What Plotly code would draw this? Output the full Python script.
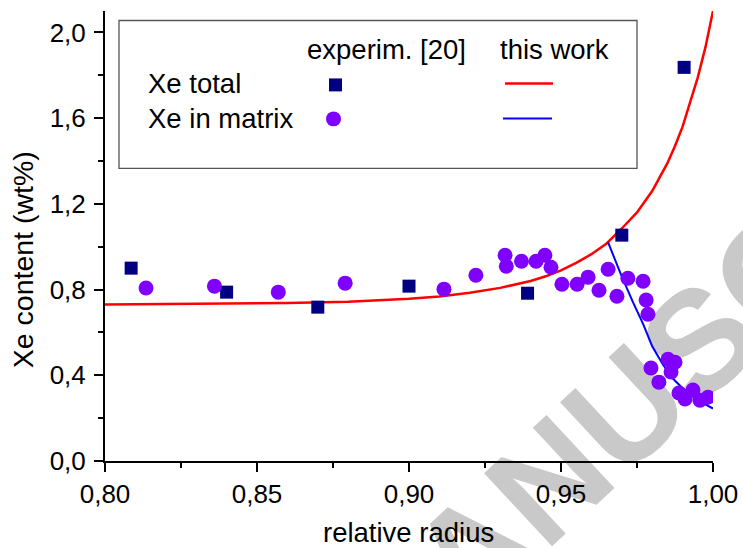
import plotly.graph_objects as go

# ---------------- data ----------------
total_r = [0.8086, 0.840, 0.870, 0.900, 0.939, 0.970, 0.9905]
total_xe = [0.900, 0.788, 0.718, 0.816, 0.783, 1.054, 1.837]

matrix_r = [0.8135, 0.836, 0.857, 0.879, 0.9115, 0.922, 0.9316, 0.932, 0.937,
            0.9418, 0.9447, 0.9467, 0.9503, 0.9553, 0.9589, 0.9625, 0.9655,
            0.9684, 0.972, 0.977, 0.978, 0.9786, 0.9796, 0.9822, 0.9852,
            0.9875, 0.9862, 0.9888, 0.9908, 0.9934, 0.9957, 0.9984]
matrix_xe = [0.807, 0.816, 0.788, 0.830, 0.802, 0.867, 0.960, 0.909, 0.932,
             0.932, 0.960, 0.904, 0.825, 0.825, 0.858, 0.797, 0.895,
             0.769, 0.853, 0.839, 0.751, 0.685, 0.434, 0.368, 0.475,
             0.461, 0.415, 0.317, 0.289, 0.331, 0.284, 0.298]

model_total_r = [0.800, 0.820, 0.840, 0.860, 0.880, 0.900, 0.910, 0.920, 0.930,
                 0.940, 0.945, 0.950, 0.955, 0.960, 0.965, 0.970, 0.975, 0.980,
                 0.985, 0.9875, 0.990, 0.9925, 0.995, 0.9975, 1.000]
model_total_xe = [0.730, 0.732, 0.734, 0.737, 0.743, 0.757, 0.768, 0.785, 0.808,
                  0.840, 0.862, 0.890, 0.925, 0.965, 1.015, 1.085, 1.160, 1.260,
                  1.390, 1.470, 1.560, 1.670, 1.790, 1.930, 2.100]

model_matrix_r = [0.9655, 0.970, 0.9737, 0.977, 0.980, 0.9835, 0.9868, 0.990,
                  0.9934, 0.9967, 1.000]
model_matrix_xe = [1.020, 0.860, 0.740, 0.640, 0.535, 0.450, 0.385, 0.340,
                   0.300, 0.270, 0.245]

x_ticks = [0.80, 0.85, 0.90, 0.95, 1.00]
y_ticks = [0.0, 0.4, 0.8, 1.2, 1.6, 2.0]

FONT = "Liberation Sans, Arial, Helvetica, sans-serif"
NAVY = "#000080"
VIOLET = "#8000FF"

# plot-area geometry (pixels)
W, H = 743, 548
L, R, T, B = 105, 30, 10.5, 87
PW, PH = W - L - R, H - T - B


def px(x):
    return (x - L) / PW


def py(y):
    return (H - B - y) / PH


fig = go.Figure()
fig.add_trace(go.Scatter(x=model_total_r, y=model_total_xe, mode="lines",
                         line=dict(color="#FF0000", width=2.5), showlegend=False))
fig.add_trace(go.Scatter(x=model_matrix_r, y=model_matrix_xe, mode="lines",
                         line=dict(color="#0000FF", width=2), showlegend=False))
fig.add_trace(go.Scatter(x=total_r, y=total_xe, mode="markers",
                         marker=dict(symbol="square", size=13, color=NAVY,
                                     line=dict(width=0)), showlegend=False))
fig.add_trace(go.Scatter(x=matrix_r, y=matrix_xe, mode="markers",
                         marker=dict(symbol="circle", size=15, color=VIOLET,
                                     line=dict(width=0)), showlegend=False))

shapes = []
# watermark (below traces)
shapes.append(dict(type="rect", xref="paper", yref="paper", layer="below",
                   x0=px(685), x1=px(695), y0=py(335), y1=py(325),
                   line=dict(width=0), fillcolor="rgba(0,0,0,0)",
                   label=dict(text="<b>MANUSCRIPT</b>", textangle=-43,
                              textposition="middle center",
                              font=dict(size=145, color="#c9c9c9", family=FONT))))
# legend box
shapes.append(dict(type="rect", xref="paper", yref="paper",
                   x0=px(119), x1=px(637), y0=py(168), y1=py(20),
                   line=dict(color="#555555", width=1.3), fillcolor="white"))
# legend symbols
shapes.append(dict(type="rect", xref="paper", yref="paper",
                   x0=px(329), x1=px(342), y0=py(91), y1=py(78),
                   line=dict(width=0), fillcolor=NAVY))
shapes.append(dict(type="circle", xref="paper", yref="paper",
                   x0=px(326), x1=px(341), y0=py(126), y1=py(111),
                   line=dict(width=0), fillcolor=VIOLET))
shapes.append(dict(type="line", xref="paper", yref="paper",
                   x0=px(505), x1=px(553), y0=py(83), y1=py(83),
                   line=dict(color="#FF0000", width=2.5)))
shapes.append(dict(type="line", xref="paper", yref="paper",
                   x0=px(503), x1=px(552), y0=py(118), y1=py(118),
                   line=dict(color="#0000FF", width=2)))

annotations = []


def add_text(text, x, y, size=27.5, xanchor="left", angle=0):
    annotations.append(dict(text=text, xref="paper", yref="paper",
                            x=px(x), y=py(y), xanchor=xanchor, yanchor="middle",
                            showarrow=False, textangle=angle,
                            font=dict(size=size, color="black", family=FONT)))


add_text("experim. [20]", 305, 49)
add_text("this work", 498, 49)
add_text("Xe total", 146, 83)
add_text("Xe in matrix", 146, 118)
add_text("relative radius", 408, 533, xanchor="center")
add_text("Xe content (wt%)", 23, 260, size=28.5, xanchor="center", angle=-90)

axis_common = dict(showline=True, linecolor="black", linewidth=2,
                   ticks="outside", ticklen=9, tickwidth=2, tickcolor="black",
                   showgrid=False, zeroline=False, mirror=False, automargin=False,
                   tickfont=dict(size=26, color="black", family=FONT))

fig.update_xaxes(range=[0.8, 1.0], tickvals=x_ticks, tickformat=".2f",
                 minor=dict(dtick=0.025, tick0=0.8, ticks="outside", ticklen=5,
                            tickwidth=2, tickcolor="black"),
                 **axis_common)
fig.update_yaxes(range=[0, 2.1], tickvals=y_ticks, tickformat=".1f",
                 minor=dict(dtick=0.2, tick0=0, ticks="outside", ticklen=5,
                            tickwidth=2, tickcolor="black"),
                 ticklabelstandoff=3,
                 **axis_common)

fig.update_layout(width=W, height=H, autosize=False,
                  margin=dict(l=L, r=R, t=T, b=B, pad=0, autoexpand=False),
                  paper_bgcolor="white", plot_bgcolor="rgba(0,0,0,0)",
                  separators=",.", showlegend=False, hovermode=False,
                  shapes=shapes, annotations=annotations,
                  font=dict(family=FONT, color="black"))

fig.write_html("out.html", config={"displayModeBar": False, "responsive": False})

# remove the browser's default page margin so the figure sits at (0, 0)
with open("out.html", encoding="utf-8") as f:
    html = f.read()
html = html.replace("<head>", "<head><style>html,body{margin:0;padding:0;overflow:hidden;}</style>", 1)
with open("out.html", "w", encoding="utf-8") as f:
    f.write(html)
